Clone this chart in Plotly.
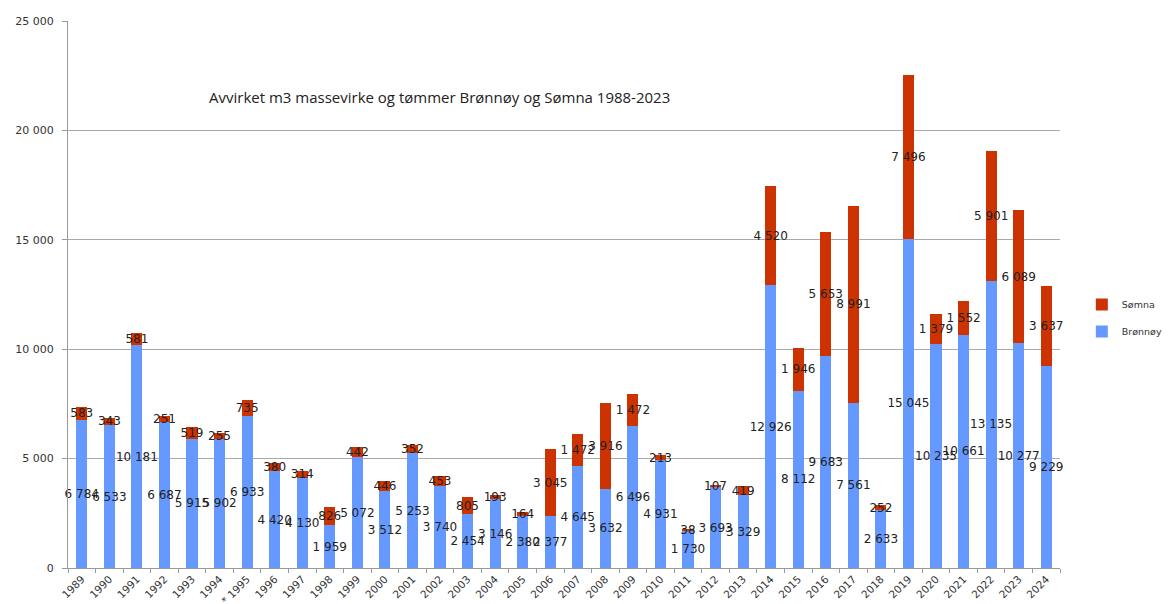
import plotly.graph_objects as go

years = ["1989", "1990", "1991", "1992", "1993", "1994", "* 1995", "1996", "1997", "1998",
         "1999", "2000", "2001", "2002", "2003", "2004", "2005", "2006", "2007", "2008",
         "2009", "2010", "2011", "2012", "2013", "2014", "2015", "2016", "2017", "2018",
         "2019", "2020", "2021", "2022", "2023", "2024"]

bronnoy = [6784, 6533, 10181, 6687, 5915, 5902, 6933, 4420, 4130, 1959,
           5072, 3512, 5253, 3740, 2454, 3146, 2380, 2377, 4645, 3632,
           6496, 4931, 1730, 3693, 3329, 12926, 8112, 9683, 7561, 2633,
           15045, 10235, 10661, 13135, 10277, 9229]

somna = [583, 343, 581, 251, 519, 255, 735, 380, 314, 826,
         442, 446, 352, 453, 805, 193, 164, 3045, 1472, 3916,
         1472, 213, 38, 107, 419, 4520, 1946, 5653, 8991, 252,
         7496, 1379, 1552, 5901, 6089, 3637]

y_ticks = [0, 5000, 10000, 15000, 20000, 25000]


def fmt(v):
    return f"{v:,}".replace(",", " ")


label_font = dict(family="DejaVu Sans", size=12, color="#222222")

fig = go.Figure()
fig.add_trace(go.Bar(
    x=years, y=bronnoy, name="Brønnøy", legendgroup="b", legendrank=2,
    marker=dict(color="#6699FF", line=dict(width=0)),
    text=[fmt(v) for v in bronnoy], textposition="inside",
    insidetextanchor="middle", textangle=0, textfont=label_font,
    constraintext="none", cliponaxis=False,
    width=0.4,
))
fig.add_trace(go.Bar(
    x=years, y=somna, name="Sømna", legendgroup="s", legendrank=1,
    marker=dict(color="#CC3300", line=dict(width=0)),
    text=[fmt(v) for v in somna], textposition="inside",
    insidetextanchor="middle", textangle=0, textfont=label_font,
    constraintext="none", cliponaxis=False,
    width=0.4,
))

fig.update_layout(
    barmode="stack",
    width=1172, height=596,
    margin=dict(l=60, r=120, t=13, b=36),
    paper_bgcolor="white", plot_bgcolor="white",
    font=dict(family="DejaVu Sans", color="#333333"),
    showlegend=True,
    legend=dict(x=1.022, y=0.457, xanchor="left", yanchor="middle",
                traceorder="grouped",
                font=dict(size=9.5, color="#333333"), bgcolor="rgba(0,0,0,0)",
                itemwidth=30, tracegroupgap=8),
    annotations=[dict(
        text="Avvirket m3 massevirke og tømmer Brønnøy og Sømna 1988-2023",
        x=0.374, y=0.861, xref="paper", yref="paper", showarrow=False,
        xanchor="center", yanchor="middle",
        font=dict(family="Open Sans", size=15, color="#222222"),
    )],
)

fig.update_xaxes(
    type="category", tickangle=-45, tickfont=dict(size=10.5, color="#333333"),
    showline=True, linecolor="#999999", linewidth=1,
    ticks="outside", ticklen=4, tickcolor="#999999", tickson="boundaries",
    showgrid=False, automargin=False,
)
fig.update_yaxes(
    range=[0, 25000], tickvals=y_ticks, ticktext=[fmt(v) for v in y_ticks],
    tickfont=dict(size=11, color="#333333"),
    showgrid=True, gridcolor="#AAAAAA", gridwidth=1,
    showline=True, linecolor="#999999", linewidth=1,
    ticks="outside", ticklen=5, tickcolor="#999999",
    ticklabelstandoff=6,
    zeroline=False, automargin=False,
)

fig.write_html("out.html")
